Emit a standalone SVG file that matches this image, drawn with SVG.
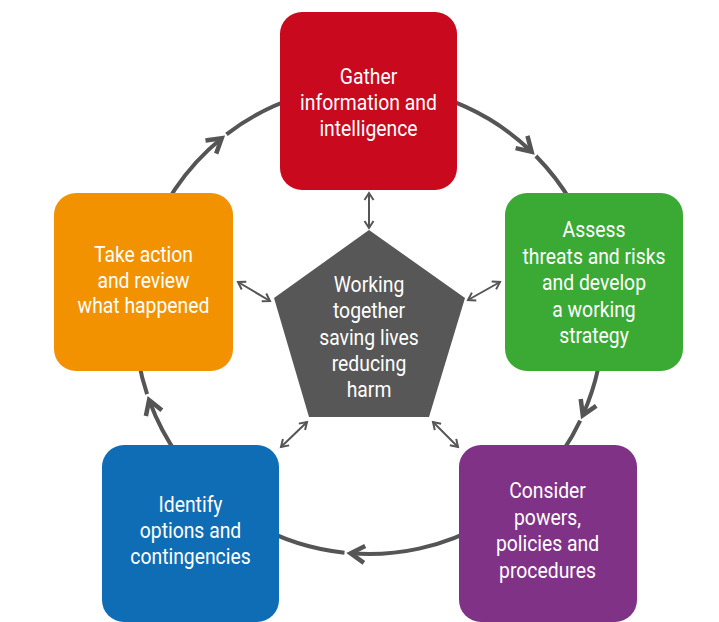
<svg xmlns="http://www.w3.org/2000/svg" width="719" height="622" viewBox="0 0 719 622">
<style>
.box{stroke:none}
.lbl{font-family:Roboto,"Liberation Sans",sans-serif;font-size:21.5px;fill:#ffffff;text-anchor:middle}
.cyc{fill:none;stroke:#555555;stroke-width:4}
.dbl{fill:none;stroke:#555555;stroke-width:2}
</style>
<defs>
<marker id="big" markerUnits="userSpaceOnUse" markerWidth="30" markerHeight="30" viewBox="-20 -15 30 30" refX="0" refY="0" orient="auto">
<path d="M-14,-8.5 L0,0 L-14,8.5" fill="none" stroke="#555555" stroke-width="4.5" stroke-linejoin="miter"/>
</marker>
<marker id="sm" markerUnits="userSpaceOnUse" markerWidth="20" markerHeight="20" viewBox="-10 -10 20 20" refX="0" refY="0" orient="auto-start-reverse">
<path d="M-7,-4.5 L0,0 L-7,4.5" fill="none" stroke="#555555" stroke-width="2"/>
</marker>
</defs>
<rect width="719" height="622" fill="#ffffff"/>
<g id="connectors">
<path class="cyc" d="M147.1,394.2 A234,234 0 0 1 221.7,138.2" marker-end="url(#big)"/>
<path class="cyc" d="M226.5,134.3 A234,234 0 0 1 531.6,151.7" marker-end="url(#big)"/>
<path class="cyc" d="M535.9,156.0 A234,234 0 0 1 582.8,415.2" marker-end="url(#big)"/>
<path class="cyc" d="M580.2,420.7 A234,234 0 0 1 350.6,553.3" marker-end="url(#big)"/>
<path class="cyc" d="M344.5,552.7 A234,234 0 0 1 149.1,400.0" marker-end="url(#big)"/>
<line class="dbl" x1="369" y1="193" x2="369" y2="228" marker-start="url(#sm)" marker-end="url(#sm)"/>
<line class="dbl" x1="500" y1="282" x2="468" y2="300" marker-start="url(#sm)" marker-end="url(#sm)"/>
<line class="dbl" x1="238" y1="282" x2="270" y2="301" marker-start="url(#sm)" marker-end="url(#sm)"/>
<line class="dbl" x1="307" y1="422" x2="281" y2="447" marker-start="url(#sm)" marker-end="url(#sm)"/>
<line class="dbl" x1="433" y1="422" x2="458" y2="447" marker-start="url(#sm)" marker-end="url(#sm)"/>
</g>
<g id="gather">
<rect class="box" x="280" y="12" width="177" height="178" rx="22" fill="#C8091E"/>
<text class="lbl" transform="translate(368.5,0) scale(0.9,1)"><tspan x="0" y="84">Gather</tspan><tspan x="0" y="110">information and</tspan><tspan x="0" y="136">intelligence</tspan></text>
</g>
<g id="assess">
<rect class="box" x="505" y="193" width="178" height="178" rx="22" fill="#3AAA35"/>
<text class="lbl" transform="translate(594,0) scale(0.9,1)"><tspan x="0" y="237.5">Assess</tspan><tspan x="0" y="264">threats and risks</tspan><tspan x="0" y="290.5">and develop</tspan><tspan x="0" y="317">a working</tspan><tspan x="0" y="343.5">strategy</tspan></text>
</g>
<g id="consider">
<rect class="box" x="459" y="445" width="178" height="177" rx="22" fill="#7F3286"/>
<text class="lbl" transform="translate(547.5,0) scale(0.9,1)"><tspan x="0" y="498.5">Consider</tspan><tspan x="0" y="525">powers,</tspan><tspan x="0" y="551.5">policies and</tspan><tspan x="0" y="578">procedures</tspan></text>
</g>
<g id="identify">
<rect class="box" x="102" y="445" width="177" height="177" rx="22" fill="#0F6DB5"/>
<text class="lbl" transform="translate(190.5,0) scale(0.9,1)"><tspan x="0" y="512">Identify</tspan><tspan x="0" y="538">options and</tspan><tspan x="0" y="564">contingencies</tspan></text>
</g>
<g id="action">
<rect class="box" x="54" y="193" width="179" height="178" rx="22" fill="#F39200"/>
<text class="lbl" transform="translate(143.5,0) scale(0.9,1)"><tspan x="0" y="262.5">Take action</tspan><tspan x="0" y="288">and review</tspan><tspan x="0" y="313.5">what happened</tspan></text>
</g>
<g id="center">
<polygon points="369,230 465,298 429,417 309,417 274,298" fill="#575757"/>
<text class="lbl" transform="translate(369,0) scale(0.9,1)"><tspan x="0" y="292">Working</tspan><tspan x="0" y="318.5">together</tspan><tspan x="0" y="345">saving lives</tspan><tspan x="0" y="371">reducing</tspan><tspan x="0" y="397">harm</tspan></text>
</g>
</svg>
